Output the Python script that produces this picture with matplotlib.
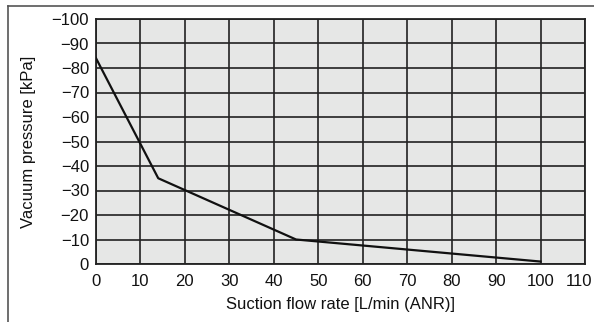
import matplotlib
matplotlib.use("Agg")
import matplotlib.pyplot as plt
from matplotlib.lines import Line2D
import matplotlib.transforms as mtransforms

plt.rcParams['font.family'] = ['Liberation Sans', 'DejaVu Sans']

flow = [0, 14, 45, 100]
pressure = [-84, -35, -10, -1]
x_ticks = list(range(0, 111, 10))
y_ticks = list(range(0, -101, -10))
x_label = "Suction flow rate [L/min (ANR)]"
y_label = "Vacuum pressure [kPa]"

fig = plt.figure(figsize=(5.94, 3.22), dpi=100)
ax = fig.add_axes([96/594, 1-264/322, (585-96)/594, (264-19)/322])
ax.set_facecolor('#e6e7e6')
ax.plot(flow, pressure, color='#111111', lw=1.6, zorder=3)
ax.set_xlim(0, 110)
ax.set_ylim(0, -100)
ax.set_xticks(x_ticks)
ax.set_yticks(y_ticks)
ax.set_yticklabels([("\u2212" + str(-v)) if v != 0 else "0" for v in y_ticks])
ax.grid(True, color='#222222', lw=1.2)
ax.set_axisbelow(True)
for s in ax.spines.values():
    s.set_color('#222222')
    s.set_linewidth(1.3)
ax.tick_params(length=0, labelsize=12, colors='#111111')
ax.tick_params(axis='y', pad=5)
ax.tick_params(axis='x', pad=7)
ax.set_xlabel(x_label, fontsize=12, color='#111111', labelpad=6)
ax.set_ylabel(y_label, fontsize=12, color='#111111', labelpad=11)

# shift the last x tick label slightly left so it stays in the picture
fig.canvas.draw()
last = ax.get_xticklabels()[-1]
last.set_transform(last.get_transform() + mtransforms.ScaledTranslation(-6/100, 0, fig.dpi_scale_trans))

# outer frame lines (top and left)
fig.add_artist(Line2D([8/594, 1], [1-5.5/322, 1-5.5/322], transform=fig.transFigure, color='#555555', lw=1.2))
fig.add_artist(Line2D([8/594, 8/594], [0, 1-5.5/322], transform=fig.transFigure, color='#555555', lw=1.2))

fig.savefig("out.png", dpi=100)
